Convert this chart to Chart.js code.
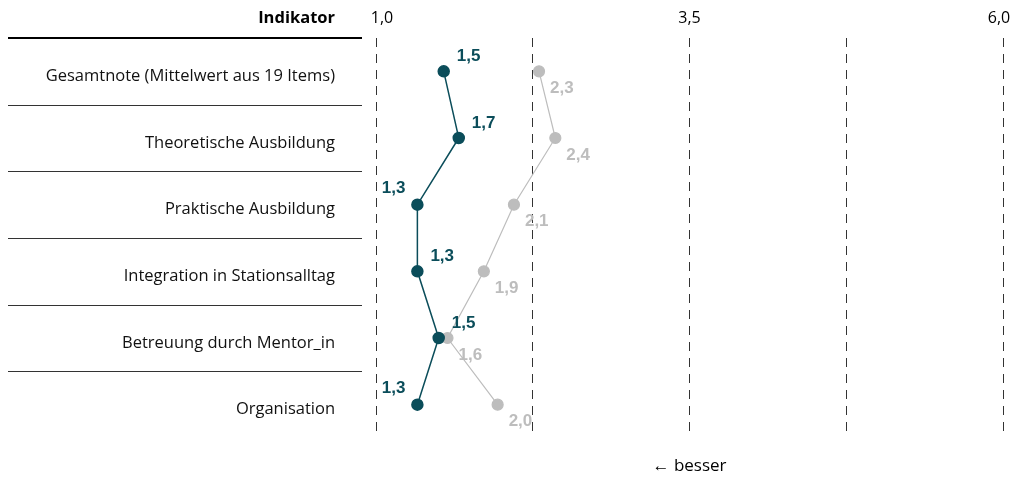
<!-- chart canvas -->
<div style="width:1012px;height:479px;position:absolute;left:0;top:0">
    <canvas id="myChart" width="1012" height="479"></canvas>
</div>
<script src="https://cdn.jsdelivr.net/npm/chart.js@4.4.1/dist/chart.umd.min.js"></script>
<script>
    // categories (rows, top to bottom)
    const indikatoren = [
        'Gesamtnote (Mittelwert aus 19 Items)',
        'Theoretische Ausbildung',
        'Praktische Ausbildung',
        'Integration in Stationsalltag',
        'Betreuung durch Mentor_in',
        'Organisation'
    ]
    // mean grades
    const werteDunkel = [1.54, 1.66, 1.33, 1.33, 1.50, 1.33]
    const werteGrau = [2.30, 2.43, 2.10, 1.86, 1.57, 1.97]
    // x axis ticks
    const achseMin = 1.0
    const achseMax = 6.0
    const achseSchritt = 1.25
    const achseBeschriftet = [1.0, 3.5, 6.0]

    const dunkel = '#0b4d5a'
    const grau = '#bdbdbd'
    // which side the dark value labels sit on
    const seiteDunkel = ['right', 'right', 'left', 'right', 'right', 'left']

    const fmt = v => v.toFixed(1).replace('.', ',')

    // draws header, tick labels, row separators, value labels and the "besser" hint
    const extras = {
        id: 'extras',
        afterDatasetsDraw(chart) {
            const ctx = chart.ctx
            const y = chart.scales.y
            const x = chart.scales.x
            ctx.save()
            // row separators
            const step = y.getPixelForValue(1) - y.getPixelForValue(0)
            for (let i = 0; i < indikatoren.length; i++) {
                const py = Math.round(y.getPixelForValue(i) - step / 2)
                ctx.beginPath()
                ctx.strokeStyle = i === 0 ? '#000' : '#333'
                ctx.lineWidth = i === 0 ? 2 : 1
                ctx.moveTo(8, i === 0 ? py : py + 0.5)
                ctx.lineTo(362, i === 0 ? py : py + 0.5)
                ctx.stroke()
            }
            // header
            ctx.fillStyle = '#000'
            ctx.font = 'bold 16.5px "Open Sans"'
            ctx.textAlign = 'right'
            ctx.textBaseline = 'middle'
            ctx.fillText('Indikator', 335, 18)
            // x tick labels (kept inside the canvas at both ends)
            ctx.font = '16px "Open Sans"'
            ctx.textAlign = 'center'
            achseBeschriftet.forEach((v, i) => {
                let px = x.getPixelForValue(v)
                if (i === 0) px += 6
                if (i === achseBeschriftet.length - 1) px -= 4
                ctx.fillText(fmt(v), px, 18)
            })
            // value labels
            ctx.font = 'bold 17px "Liberation Sans"'
            chart.getDatasetMeta(0).data.forEach((pt, i) => {
                ctx.fillStyle = dunkel
                if (seiteDunkel[i] === 'left') {
                    ctx.textAlign = 'right'
                    ctx.fillText(fmt(werteDunkel[i]), pt.x - 12, pt.y - 16)
                } else {
                    ctx.textAlign = 'left'
                    ctx.fillText(fmt(werteDunkel[i]), pt.x + 13, pt.y - 15)
                }
            })
            chart.getDatasetMeta(1).data.forEach((pt, i) => {
                ctx.fillStyle = grau
                ctx.textAlign = 'left'
                ctx.fillText(fmt(werteGrau[i]), pt.x + 11, pt.y + 17)
            })
            // hint below
            ctx.fillStyle = '#000'
            ctx.font = '17px "Open Sans"'
            ctx.textAlign = 'center'
            ctx.fillText('\u2190 besser', x.getPixelForValue(3.5), 466)
            ctx.restore()
        }
    }

    const ctx = document.getElementById('myChart')
    const myChart = new Chart(ctx, {
        type: 'line',
        data: {
            labels: indikatoren,
            datasets: [{
                data: werteDunkel,
                borderColor: dunkel,
                backgroundColor: dunkel,
                borderWidth: 1.5,
                pointRadius: 5.5,
                pointHoverRadius: 5.5,
                order: 0
            }, {
                data: werteGrau,
                borderColor: grau,
                backgroundColor: grau,
                borderWidth: 1.2,
                pointRadius: 5.5,
                pointHoverRadius: 5.5,
                order: 1
            }]
        },
        options: {
            indexAxis: 'y',
            responsive: false,
            animation: false,
            layout: { padding: { left: 0, right: 9, top: 0, bottom: 41 } },
            plugins: {
                legend: { display: false },
                tooltip: { enabled: false }
            },
            scales: {
                x: {
                    type: 'linear',
                    position: 'top',
                    min: achseMin,
                    max: achseMax,
                    grid: {
                        color: '#333',
                        lineWidth: 1,
                        drawTicks: false
                    },
                    border: { display: false, dash: [9, 7] },
                    ticks: {
                        stepSize: achseSchritt,
                        autoSkip: false,
                        maxRotation: 0,
                        // labels are drawn by the extras plugin
                        callback: () => ''
                    },
                    afterFit: s => {
                        s.height = 38
                        s.paddingLeft = 0
                        s.paddingRight = 0
                    }
                },
                y: {
                    type: 'category',
                    offset: true,
                    grid: { display: false },
                    border: { display: false },
                    ticks: {
                        color: '#111',
                        font: { family: 'Open Sans', size: 16.5 },
                        padding: 33,
                        labelOffset: 5
                    },
                    afterFit: s => {
                        s.width = 376
                        s.paddingTop = 0
                        s.paddingBottom = 0
                    }
                }
            }
        },
        plugins: [extras]
    });
</script>
